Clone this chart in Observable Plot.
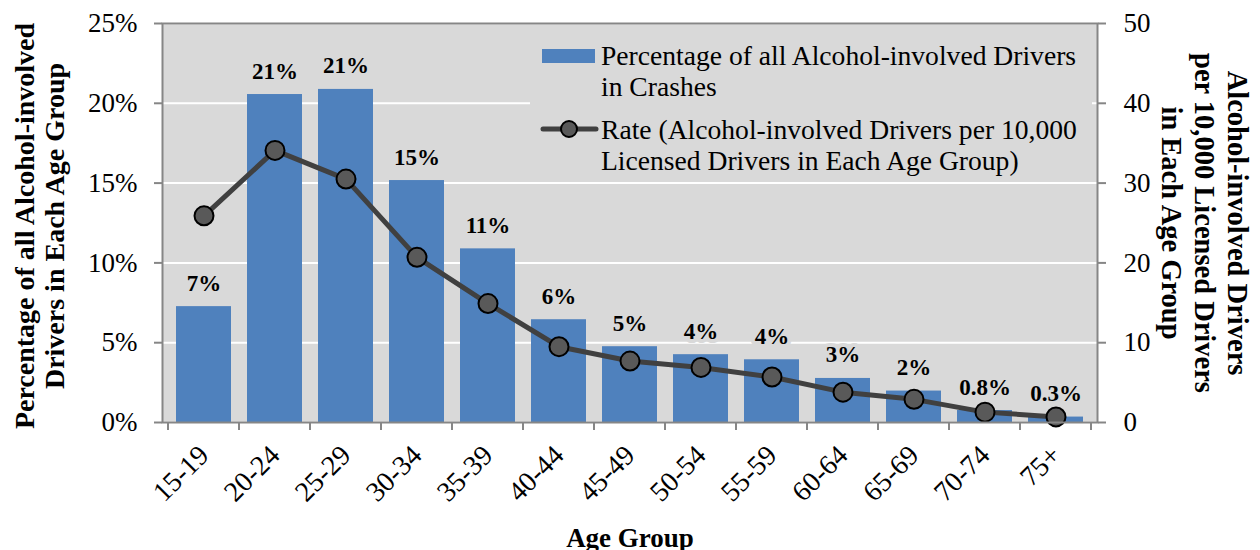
<!DOCTYPE html>
<html>
<head>
<meta charset="utf-8">
<script src="https://cdn.jsdelivr.net/npm/d3@7"></script>
<script src="https://cdn.jsdelivr.net/npm/@observablehq/plot@0.6"></script>
<style>
  body { margin: 0; background: white; }
  #wrap { position: relative; width: 1260px; height: 550px; font-family: "Liberation Serif", serif; }
  #legend { position: absolute; left: 530px; top: 36px; width: 562px; height: 144px; background: #d9d9d9; font-family: "Liberation Serif", serif; font-size: 27.6px; line-height: 31px; color: #000; }
  .entry { position: absolute; left: 71px; white-space: nowrap; }
</style>
</head>
<body>
<div id="wrap"></div>
<script>
const ages = ["15-19","20-24","25-29","30-34","35-39","40-44","45-49","50-54","55-59","60-64","65-69","70-74","75+"];
const pctValues = [7.26, 20.55, 20.87, 15.16, 10.88, 6.44, 4.75, 4.25, 3.93, 2.76, 1.97, 0.75, 0.34];
const pctLabels = ["7%","21%","21%","15%","11%","6%","5%","4%","4%","3%","2%","0.8%","0.3%"];
const rateValues = [25.9, 34.1, 30.5, 20.7, 14.9, 9.5, 7.7, 6.9, 5.7, 3.8, 2.9, 1.3, 0.7];
const pctTicks = [0, 5, 10, 15, 20, 25];
const rateTicks = [0, 10, 20, 30, 40, 50];
const barName = "Percentage of all Alcohol-involved Drivers\nin Crashes";
const lineName = "Rate (Alcohol-involved Drivers per 10,000\nLicensed Drivers in Each Age Group)";
const leftTitle = "Percentage of all Alcohol-involved\nDrivers in Each Age Group";
const rightTitle = "Alcohol-involved Drivers\nper 10,000 Licensed Drivers\nin Each Age Group";
const xTitle = "Age Group";

const ratio = pctTicks[pctTicks.length - 1] / rateTicks[rateTicks.length - 1];
const data = ages.map((age, i) => ({age, pct: pctValues[i], label: pctLabels[i], rate: rateValues[i]}));

const BLUE = "#4f81bd", BG = "#d9d9d9", AXIS = "#868686";

function boundaryTicks(index, scales, values, dims) {
  const x = scales.x;
  const bw = x.bandwidth ? x.bandwidth() : 0;
  const step = x.step ? x.step() : bw;
  const half = (step - bw) / 2;
  const pos = ages.map(a => x(a) - half);
  pos.push(x(ages[ages.length - 1]) + bw + half);
  const y0 = dims.height - dims.marginBottom;
  const g = d3.create("svg:g").attr("stroke", AXIS).attr("stroke-width", 2);
  for (const p of pos) g.append("line").attr("x1", p).attr("x2", p).attr("y1", y0).attr("y2", y0 + 8);
  return g.node();
}

const chart = Plot.plot({
  width: 1260, height: 550,
  marginLeft: 162, marginRight: 163, marginTop: 23, marginBottom: 128,
  style: {fontFamily: "Liberation Serif", fontSize: "27px", color: "#000", background: "transparent", overflow: "visible"},
  x: {type: "band", domain: ages, paddingInner: 0.225, paddingOuter: 0.1125, label: null},
  y: {domain: [0, 25], label: null},
  marks: [
    Plot.frame({fill: BG}),
    Plot.gridY(pctTicks, {stroke: "white", strokeOpacity: 1, strokeWidth: 2}),
    Plot.barY(data, {x: "age", y: "pct", fill: BLUE}),
    Plot.text(data, {x: "age", y: "pct", text: "label", dy: -16, lineAnchor: "bottom", fontWeight: "bold", fontSize: 23, fill: "#000", stroke: BG, strokeWidth: 8, paintOrder: "stroke"}),
    Plot.line(data, {x: "age", y: d => d.rate * ratio, stroke: "#404040", strokeWidth: 5}),
    Plot.dot(data, {x: "age", y: d => d.rate * ratio, r: 9.5, fill: "#595959", stroke: "#000", strokeWidth: 2}),
    Plot.frame({stroke: AXIS, strokeWidth: 2}),
    Plot.axisY(pctTicks, {anchor: "left", tickFormat: d => d + "%", tickSize: 8, tickPadding: 17, stroke: AXIS, strokeWidth: 2, label: null, fontSize: 27}),
    Plot.axisY(rateTicks.map(r => r * ratio), {anchor: "right", tickFormat: d => String(Math.round(d / ratio)), tickSize: 8, tickPadding: 18, stroke: AXIS, strokeWidth: 2, label: null, fontSize: 27}),
    Plot.axisX({tickSize: 0, tickRotate: -45, tickPadding: 28, label: null, fontSize: 28}),
    boundaryTicks,
    Plot.text([leftTitle], {text: d => d, frameAnchor: "left", textAnchor: "middle", rotate: -90, dx: -123, dy: 3, fontSize: 28, fontWeight: "bold", lineHeight: 1.08}),
    Plot.text([rightTitle], {text: d => d, frameAnchor: "right", textAnchor: "middle", rotate: 90, dx: 108, fontSize: 28.5, fontWeight: "bold", lineHeight: 1.17}),
    Plot.text([xTitle], {text: d => d, frameAnchor: "bottom", dy: 124, fontSize: 27, fontWeight: "bold"})
  ]
});

const wrap = document.getElementById("wrap");
wrap.appendChild(chart);

// Legend
const legend = document.createElement("div");
legend.id = "legend";
const barLines = barName.split("\n");
const lineLines = lineName.split("\n");
legend.innerHTML = `
  <svg width="562" height="144" style="position:absolute;left:0;top:0">
    <rect x="12" y="13" width="53" height="14" fill="${BLUE}"></rect>
    <line x1="13" x2="66" y1="93" y2="93" stroke="#404040" stroke-width="5" stroke-linecap="round"></line>
    <circle cx="39" cy="93" r="8" fill="#595959" stroke="#000" stroke-width="2"></circle>
  </svg>
  <div class="entry" style="top:4px">${barLines.join("<br>")}</div>
  <div class="entry" style="top:78px">${lineLines.join("<br>")}</div>`;
wrap.appendChild(legend);
</script>
</body>
</html>
